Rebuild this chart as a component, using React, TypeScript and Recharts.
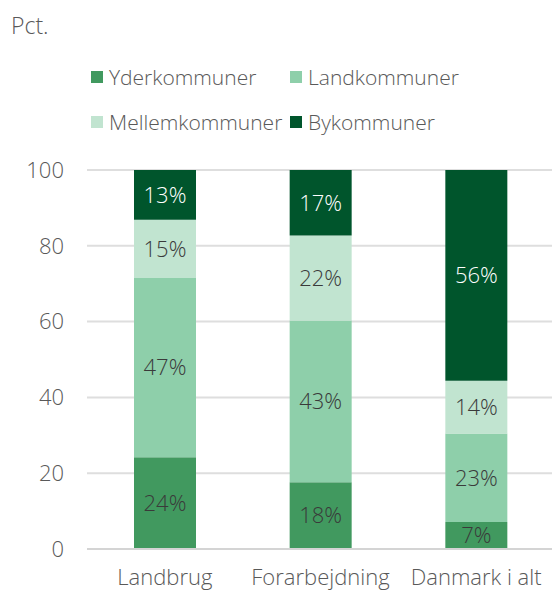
import { BarChart, Bar, XAxis, YAxis, CartesianGrid, LabelList } from 'recharts';

const CATEGORIES = ['Landbrug', 'Forarbejdning', 'Danmark i alt'];
const YDER = [24.2, 17.6, 7.1];
const LAND = [47.3, 42.7, 23.4];
const MELLEM = [15.4, 22.4, 13.9];
const BY = [13.1, 17.3, 55.6];
const Y_TICKS = [0, 20, 40, 60, 80, 100];

const SERIES = [
  { key: 'yder', name: 'Yderkommuner', color: '#41995f', label: '#3a3a3a' },
  { key: 'land', name: 'Landkommuner', color: '#8ecfaa', label: '#3a3a3a' },
  { key: 'mellem', name: 'Mellemkommuner', color: '#c1e4d0', label: '#3a3a3a' },
  { key: 'by', name: 'Bykommuner', color: '#00552c', label: '#ffffff' },
];

const FONT = '"Open Sans", sans-serif';

const data = CATEGORIES.map((name, i) => ({
  name,
  yder: YDER[i],
  land: LAND[i],
  mellem: MELLEM[i],
  by: BY[i],
}));

function ChartLegend() {
  return (
    <div style={{ position: 'absolute', left: 91, top: 62, display: 'grid', gridTemplateColumns: '199px 200px', rowGap: 15, fontFamily: FONT, fontWeight: 300, fontSize: 21, color: '#595959' }}>
      {SERIES.map(s => (
        <div key={s.key} style={{ display: 'flex', alignItems: 'center', height: 30, whiteSpace: 'nowrap' }}>
          <span style={{ width: 12, height: 12, background: s.color, marginRight: 6, flexShrink: 0 }} />
          {s.name}
        </div>
      ))}
    </div>
  );
}

export default function App() {
  return (
    <div style={{ position: 'absolute', left: 0, top: 0, width: 552, height: 593, background: '#fff', overflow: 'hidden' }}>
      <div style={{ position: 'absolute', left: 11, top: 9, fontFamily: FONT, fontWeight: 300, fontSize: 23, color: '#595959' }}>Pct.</div>
      <ChartLegend />
      <BarChart width={554} height={593} data={data} margin={{ top: 170, right: 0, left: 0, bottom: 0 }}>
        <CartesianGrid vertical={false} stroke="#dedede" strokeWidth={2} />
        <XAxis
          dataKey="name"
          axisLine={{ stroke: '#d4d4d4', strokeWidth: 2 }}
          tickLine={false}
          height={44}
          tick={{ fontSize: 22, fill: '#595959', fontFamily: FONT, fontWeight: 300 }}
          dy={12}
        />
        <YAxis
          domain={[0, 100]}
          ticks={Y_TICKS}
          axisLine={false}
          tickLine={false}
          tickSize={0}
          tickMargin={23}
          width={87}
          tick={{ fontSize: 22, fill: '#595959', fontFamily: FONT, fontWeight: 300 }}
        />
        {SERIES.map(s => (
          <Bar key={s.key} dataKey={s.key} name={s.name} stackId="a" fill={s.color} barSize={62} isAnimationActive={false}>
            <LabelList
              dataKey={s.key}
              position="center"
              formatter={(v: number) => `${Math.round(v)}%`}
              style={{ fontSize: 22, fill: s.label, fontFamily: FONT, fontWeight: 300 }}
            />
          </Bar>
        ))}
      </BarChart>
    </div>
  );
}
